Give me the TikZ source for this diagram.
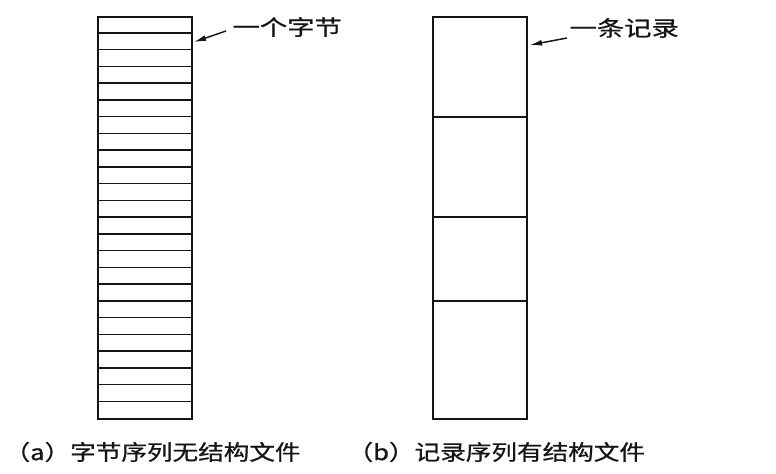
\documentclass[tikz,border=0pt]{standalone}
\usepackage{fontspec}
\newfontfamily\cjk[FakeBold=0.7]{Noto Sans CJK SC}
\usetikzlibrary{arrows.meta}
\definecolor{ink}{HTML}{151515}
\newcommand{\widetxt}[1]{\scalebox{1.2}[1]{#1}}

\begin{document}
\begin{tikzpicture}[x=0.75pt,y=-0.75pt]
  \useasboundingbox (0,0) rectangle (776,474);
  \tikzset{
    filebox/.style={draw=ink, line width=1.2pt, inner sep=0pt, minimum width=70.5pt, minimum height=301.5pt},
    lbl/.style={anchor=west, inner sep=1pt, text=ink, font=\cjk\fontsize{16pt}{18pt}\selectfont},
    arr/.style={-{Latex[length=9pt,width=4.5pt]}, line width=1.1pt, color=ink}
  }
  \node[filebox] (bytes) at (145,218) {};
  \foreach \i in {1,...,23}
    \draw[line width=1.2pt, color=ink] ([yshift=-\i*12.5625pt]bytes.north west) -- ([yshift=-\i*12.5625pt]bytes.north east);
  \node[filebox] (records) at (480,218) {};
  \foreach \d in {75.75,150.75,213.75}
    \draw[line width=1.2pt, color=ink] ([yshift=-\d pt]records.north west) -- ([yshift=-\d pt]records.north east);
  \node[lbl] (byteLbl) at (231,27) {\scalebox{1.28}[1]{一个字节}};
  \node[lbl] (recLbl) at (568,28) {\scalebox{1.28}[1]{一条记录}};
  \coordinate (byteTip) at (194,42);
  \coordinate (recTip) at (530,45);
  \draw[arr] ([shift={(-3.75pt,-3pt)}]byteLbl.west) -- (byteTip);
  \draw[arr] ([shift={(-0.75pt,-7.5pt)}]recLbl.west) -- (recTip);
  \node[lbl] (capA) at (3,452) {\widetxt{（a）字节序列无结构文件}};
  \node[lbl] (capB) at (346,452) {\widetxt{（b）记录序列有结构文件}};
\end{tikzpicture}
\end{document}
